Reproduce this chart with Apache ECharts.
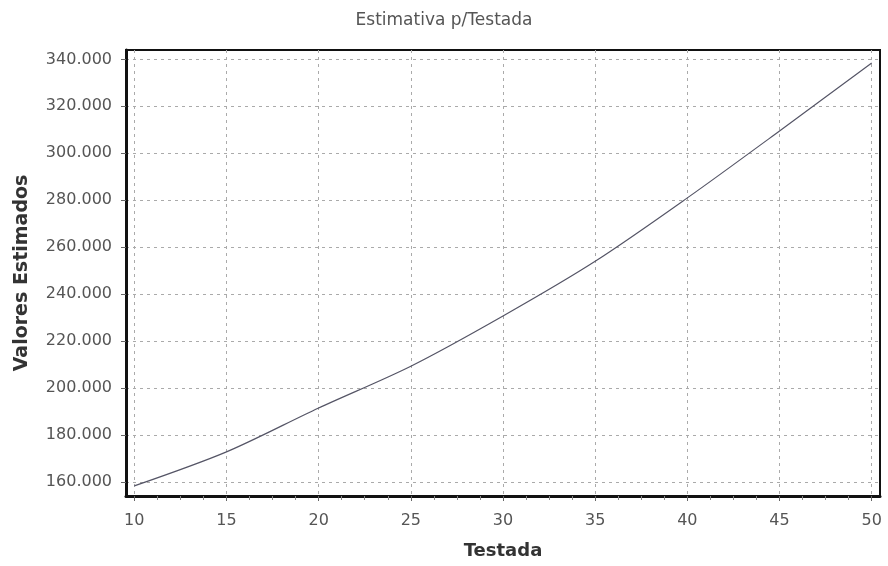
<!DOCTYPE html>
<html>
<head>
<meta charset="utf-8">
<script src="https://cdn.jsdelivr.net/npm/echarts@6/dist/echarts.min.js"></script>
<style>html,body{margin:0;padding:0;background:#fff;}#c{width:888px;height:566px;}</style>
</head>
<body>
<div id="c"></div>
<script>
var titleText = 'Estimativa p/Testada';
var xName = 'Testada';
var yName = 'Valores Estimados';
var testada = [10, 15, 20, 25, 30, 35, 40, 45, 50];
var valores = [158300, 172800, 191500, 209300, 230700, 254000, 281000, 309500, 338500];
var xTicks = [10, 15, 20, 25, 30, 35, 40, 45, 50];
var xMinorTicks = [11.25, 12.5, 13.75, 16.25, 17.5, 18.75, 21.25, 22.5, 23.75, 26.25, 27.5, 28.75,
  31.25, 32.5, 33.75, 36.25, 37.5, 38.75, 41.25, 42.5, 43.75, 46.25, 47.5, 48.75];
var yTicks = [160000, 180000, 200000, 220000, 240000, 260000, 280000, 300000, 320000, 340000];

function fmt(v) {
  return String(Math.round(v)).replace(/\B(?=(\d{3})+(?!\d))/g, '.');
}

var chart = echarts.init(document.getElementById('c'));
chart.setOption({
  backgroundColor: '#fff',
  animation: false,
  title: {
    text: titleText, left: 'center', top: 7,
    textStyle: {fontFamily: 'DejaVu Sans', fontSize: 17, fontWeight: 'normal', color: '#555'}
  },
  grid: {left: 126, right: 8, top: 50, bottom: 70, show: true, borderColor: '#111', borderWidth: 2, backgroundColor: 'transparent'},
  xAxis: [{
    type: 'value', min: 9.55, max: 50.45,
    customValues: xTicks,
    name: xName, nameLocation: 'middle', nameGap: 46,
    nameTextStyle: {fontFamily: 'DejaVu Sans', fontSize: 18, fontWeight: 'bold', color: '#333'},
    axisLine: {show: true, onZero: false, lineStyle: {color: '#111', width: 3}},
    axisTick: {show: true, length: 5, lineStyle: {color: '#666'}, customValues: xTicks},
    axisLabel: {show: true, margin: 17, fontFamily: 'DejaVu Sans', fontSize: 16, color: '#555', customValues: xTicks, showMinLabel: true, showMaxLabel: true},
    splitLine: {show: true, lineStyle: {color: '#aaa', type: [3, 4], width: 1}}
  }, {
    type: 'value', min: 9.55, max: 50.45, position: 'bottom',
    customValues: xMinorTicks,
    axisLine: {show: false},
    axisTick: {show: true, length: 4, lineStyle: {color: '#888'}, customValues: xMinorTicks},
    axisLabel: {show: false},
    splitLine: {show: false}
  }],
  yAxis: {
    type: 'value', min: 154000, max: 344000,
    name: yName, nameLocation: 'middle', nameGap: 94, nameRotate: 90,
    nameTextStyle: {fontFamily: 'DejaVu Sans', fontSize: 19, fontWeight: 'bold', color: '#333'},
    axisLine: {show: true, onZero: false, lineStyle: {color: '#111', width: 3}},
    axisTick: {show: true, length: 5, lineStyle: {color: '#666'}, customValues: yTicks},
    axisLabel: {show: true, margin: 14, fontFamily: 'DejaVu Sans', fontSize: 16, color: '#555', customValues: yTicks, formatter: fmt},
    splitLine: {show: true, lineStyle: {color: '#aaa', type: [3, 4], width: 1}}
  },
  series: [{
    type: 'line',
    xAxisIndex: 0,
    data: testada.map(function (x, i) { return [x, valores[i]]; }),
    showSymbol: false,
    smooth: 0.3,
    lineStyle: {color: '#556', width: 1.2}
  }]
});
</script>
</body>
</html>
